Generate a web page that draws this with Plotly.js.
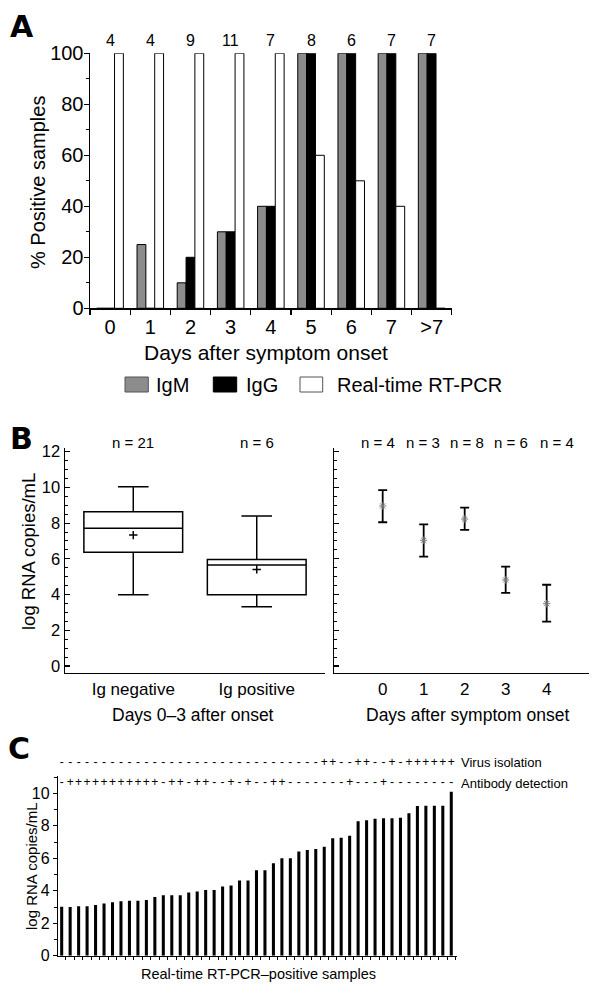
<!DOCTYPE html>
<html><head><meta charset="utf-8">
<script src="https://cdn.plot.ly/plotly-3.0.1.min.js"></script>
<style>html,body{margin:0;padding:0;background:#fff}#chart{width:600px;height:998px}</style>
</head><body><div id="chart"></div>
<script>
// ---------- Panel A data ----------
const daysA = ["0","1","2","3","4","5","6","7",">7"];
const nA = [4,4,9,11,7,8,6,7,7];
const igmA = [0,25,10,30,40,100,100,100,100];
const iggA = [0,0,20,30,40,100,100,100,100];
const pcrA = [100,100,100,100,100,60,50,40,0];
const seriesNamesA = ["IgM","IgG","Real-time RT-PCR"];

// ---------- Panel B (left) data ----------
const groupsB = ["Ig negative","Ig positive"];
const nB = [21,6];
const lowB  = [3.99, 3.32];
const q1B   = [6.37, 3.99];
const medB  = [7.71, 5.66];
const q3B   = [8.64, 5.97];
const highB = [10.04, 8.40];
const meanB = [7.33, 5.41];

// ---------- Panel B (right) data ----------
const daysB = [0,1,2,3,4];
const nDays = [4,3,8,6,4];
const meanDays  = [8.96,7.04,8.23,4.82,3.49];
const upperDays = [9.85,7.93,8.87,5.56,4.55];
const lowerDays = [8.05,6.12,7.62,4.10,2.48];

// ---------- Panel C data ----------
const loadC = [3.02,3.00,3.04,3.04,3.12,3.22,3.29,3.35,3.39,3.39,3.43,3.61,3.72,3.72,3.72,3.90,3.96,4.04,4.04,4.27,4.33,4.64,4.64,
               5.27,5.27,5.69,6.00,6.00,6.42,6.51,6.57,6.71,7.23,7.27,7.39,8.29,8.34,8.44,8.46,8.46,8.50,8.77,9.22,9.24,9.24,9.24,10.10];
const virusC = ["-","-","-","-","-","-","-","-","-","-","-","-","-","-","-","-","-","-","-","-","-","-","-","-","-","-","-","-","-","-","-",
                "+","+","-","-","+","+","-","-","+","-","+","+","+","+","+","+"];
const antibodyC = ["-","+","+","+","+","+","+","+","+","+","+","+","-","+","+","-","+","+","-","-","+","-","+","-","-","+","+",
                   "-","-","-","-","-","-","-","+","-","-","-","+","-","-","-","-","-","-","-","-"];
const rowLabelsC = ["Virus isolation","Antibody detection"];

// ---------- helpers (layout only) ----------
const W = 600, H = 998;
const px = v => v / W;
const py = v => 1 - v / H;
const FONT = "Liberation Sans, Arial, Helvetica, sans-serif";
const BOLDFONT = "DejaVu Sans, Liberation Sans, Arial, sans-serif";
const sampleIdx = loadC.map((_, i) => i);

const traces = [];
// Panel A bars
const colorsA = ["#8c8c8c", "#000000", "#ffffff"];
[igmA, iggA, pcrA].forEach((vals, k) => {
  traces.push({type:"bar", x:daysA, y:vals, name:seriesNamesA[k], xaxis:"x", yaxis:"y",
    marker:{color:colorsA[k], line:{color:"#000", width:1}}, showlegend:false, hoverinfo:"skip"});
});
// Panel B left boxes
traces.push({type:"box", x:groupsB, q1:q1B, median:medB, q3:q3B, lowerfence:lowB, upperfence:highB,
  xaxis:"x2", yaxis:"y2", width:0.8, whiskerwidth:0.31, fillcolor:"#fff",
  line:{color:"#000", width:1.5}, boxpoints:false, showlegend:false, hoverinfo:"skip"});
traces.push({type:"scatter", mode:"markers", x:groupsB, y:meanB, xaxis:"x2", yaxis:"y2",
  marker:{symbol:"cross-thin", size:6, line:{color:"#000", width:1.5}}, showlegend:false, hoverinfo:"skip"});
// Panel B right error bars
traces.push({type:"scatter", mode:"markers", x:daysB, y:meanDays, xaxis:"x3", yaxis:"y3",
  marker:{symbol:"asterisk-open", size:6, color:"#777", line:{color:"#777", width:1}},
  error_y:{type:"data", symmetric:false,
    array: upperDays.map((u, i) => u - meanDays[i]),
    arrayminus: lowerDays.map((l, i) => meanDays[i] - l),
    color:"#000", thickness:1.8, width:4.5},
  showlegend:false, hoverinfo:"skip"});
// Panel C bars
traces.push({type:"bar", x:sampleIdx, y:loadC, xaxis:"x4", yaxis:"y4", width:0.36,
  marker:{color:"#000", line:{width:0}}, showlegend:false, hoverinfo:"skip"});
// Panel C symbol rows (on an invisible overlay axis that reaches above the plot top)
const rowY = {virus: 11.88, antibody: 10.62};
[[virusC, rowY.virus], [antibodyC, rowY.antibody]].forEach(([syms, yv]) => {
  traces.push({type:"scatter", mode:"text", x:sampleIdx, y:sampleIdx.map(() => yv), text:syms,
    textposition:"middle center", textfont:{family:FONT, size:12, color:"#000"}, cliponaxis:false,
    xaxis:"x4", yaxis:"y5", showlegend:false, hoverinfo:"skip"});
});

const axBase = {showline:true, linecolor:"#000", linewidth:1.5, showgrid:false, zeroline:false,
  tickcolor:"#000", tickwidth:1.2, tickfont:{family:FONT, color:"#000"}};

const annotations = [];
const ann = (o) => annotations.push(Object.assign({showarrow:false, xanchor:"center", yanchor:"middle",
  font:{family:FONT, size:16, color:"#000"}}, o));

// Panel letters
ann({text:"<b>A</b>", xref:"paper", yref:"paper", x:px(8), y:py(27), xanchor:"left", font:{family:BOLDFONT, size:30, color:"#000"}});
ann({text:"<b>B</b>", xref:"paper", yref:"paper", x:px(8), y:py(438), xanchor:"left", font:{family:BOLDFONT, size:30, color:"#000"}});
ann({text:"<b>C</b>", xref:"paper", yref:"paper", x:px(6), y:py(748), xanchor:"left", font:{family:BOLDFONT, size:30, color:"#000"}});

// Panel A annotations
daysA.forEach((d, i) => ann({text:String(nA[i]), xref:"x", yref:"paper", x:d, y:py(40), font:{family:FONT, size:16, color:"#000"}}));
ann({text:"Days after symptom onset", xref:"paper", yref:"paper", x:px(266), y:py(353), font:{family:FONT, size:21, color:"#000"}});
ann({text:"% Positive samples", xref:"paper", yref:"paper", x:px(38), y:py(183), textangle:-90, font:{family:FONT, size:20, color:"#000"}});
// manual legend
const legendSw = [[125,148.3],[213.3,236.7],[300,322.7]];
const legendTx = [154,244,335];
const shapes = [];
seriesNamesA.forEach((nm, k) => {
  shapes.push({type:"rect", xref:"paper", yref:"paper", x0:px(legendSw[k][0]), x1:px(legendSw[k][1]), y0:py(392), y1:py(377),
    fillcolor:colorsA[k], line:{color: k===1 ? "#000" : "#555", width:1}});
  ann({text:nm, xref:"paper", yref:"paper", x:px(legendTx[k]), y:py(385), xanchor:"left", font:{family:FONT, size:20, color:"#000"}});
});

// Panel B annotations
groupsB.forEach((g, i) => ann({text:"n = " + nB[i], xref:"x2", yref:"paper", x:g, y:py(442), font:{family:FONT, size:15, color:"#000"}}));
const nShift = [-5,-1,2,5,10];
daysB.forEach((d, i) => ann({text:"n = " + nDays[i], xref:"x3", yref:"paper", x:d, xshift:nShift[i], y:py(442), font:{family:FONT, size:15, color:"#000"}}));
ann({text:"log RNA copies/mL", xref:"paper", yref:"paper", x:px(28), y:py(552), textangle:-90, font:{family:FONT, size:18.5, color:"#000"}});
ann({text:"Days 0–3 after onset", xref:"paper", yref:"paper", x:px(193), y:py(715), font:{family:FONT, size:17.5, color:"#000"}});
ann({text:"Days after symptom onset", xref:"paper", yref:"paper", x:px(467), y:py(715), font:{family:FONT, size:17.5, color:"#000"}});

// Panel C annotations
ann({text:"log RNA copies/mL", xref:"paper", yref:"paper", x:px(31), y:py(866), textangle:-90, font:{family:FONT, size:15, color:"#000"}});
ann({text:"Real-time RT-PCR–positive samples", xref:"paper", yref:"paper", x:px(258), y:py(974), font:{family:FONT, size:14.5, color:"#000"}});
ann({text:rowLabelsC[0], xref:"paper", yref:"paper", x:px(459), y:py(762.5), xanchor:"left", font:{family:FONT, size:13, color:"#000"}});
ann({text:rowLabelsC[1], xref:"paper", yref:"paper", x:px(459), y:py(783.5), xanchor:"left", font:{family:FONT, size:13, color:"#000"}});

const yC0 = 955.7, yCtop = 776, pxPerUnitC = (yC0 - yCtop) / 11.07, yOverTop = 752;
const layout = {
  width:W, height:H, autosize:false, margin:{l:0,r:0,t:0,b:0},
  paper_bgcolor:"#fff", plot_bgcolor:"rgba(0,0,0,0)",
  barmode:"group", bargap:0.34, bargroupgap:0,
  font:{family:FONT, color:"#000"},
  xaxis: Object.assign({}, axBase, {domain:[px(90), px(451.7)], anchor:"y", type:"category", range:[-0.5, 8.5],
    tickson:"boundaries", ticks:"outside", ticklen:5, tickfont:{family:FONT, size:20, color:"#000"}}),
  yaxis: Object.assign({}, axBase, {domain:[py(308.3), py(53.3)], anchor:"x", range:[0,100], dtick:20,
    ticks:"outside", ticklen:5, ticklabelstandoff:-4, tickfont:{family:FONT, size:20, color:"#000"},
    minor:{dtick:10, ticklen:3, ticks:"outside", tickcolor:"#000", tickwidth:1}}),
  xaxis2: Object.assign({}, axBase, {domain:[px(65), px(325)], anchor:"y2", type:"category", range:[-0.553, 1.553],
    ticks:"", tickfont:{family:FONT, size:17, color:"#000"}}),
  yaxis2: Object.assign({}, axBase, {domain:[py(672.7), py(448.3)], anchor:"x2", range:[-0.375, 12.19], dtick:2,
    ticks:"inside", ticklen:5, tickfont:{family:FONT, size:16.5, color:"#000"},
    minor:{dtick:0.5, ticklen:3, ticks:"inside", tickcolor:"#000", tickwidth:1}}),
  xaxis3: Object.assign({}, axBase, {domain:[px(334.3), px(589.3)], anchor:"y3", range:[-1.18, 5.04],
    tickvals:daysB, ticks:"", tickfont:{family:FONT, size:17, color:"#000"}}),
  yaxis3: Object.assign({}, axBase, {domain:[py(672.7), py(448.3)], anchor:"x3", range:[-0.375, 12.19], dtick:2,
    ticks:"inside", ticklen:5, showticklabels:false,
    minor:{dtick:0.5, ticklen:3, ticks:"inside", tickcolor:"#000", tickwidth:1}}),
  xaxis4: Object.assign({}, axBase, {domain:[px(58.3), px(456.7)], anchor:"y4", range:[-0.4, 46.64],
    tick0:0.5, dtick:1, ticks:"outside", ticklen:3, tickwidth:1, showticklabels:false}),
  yaxis4: Object.assign({}, axBase, {domain:[py(yC0), py(yCtop)], anchor:"x4", range:[0, 11.07], dtick:2,
    ticks:"outside", ticklen:4, tickfont:{family:FONT, size:16, color:"#000"},
    minor:{dtick:1, ticklen:2.5, ticks:"outside", tickcolor:"#000", tickwidth:1}}),
  yaxis5: {domain:[py(yC0), py(yOverTop)], anchor:"x4", range:[0, (yC0 - yOverTop) / pxPerUnitC], visible:false,
    showgrid:false, zeroline:false},
  annotations: annotations,
  shapes: shapes
};

Plotly.newPlot("chart", traces, layout, {staticPlot:true, displayModeBar:false});
</script>
</body></html>
